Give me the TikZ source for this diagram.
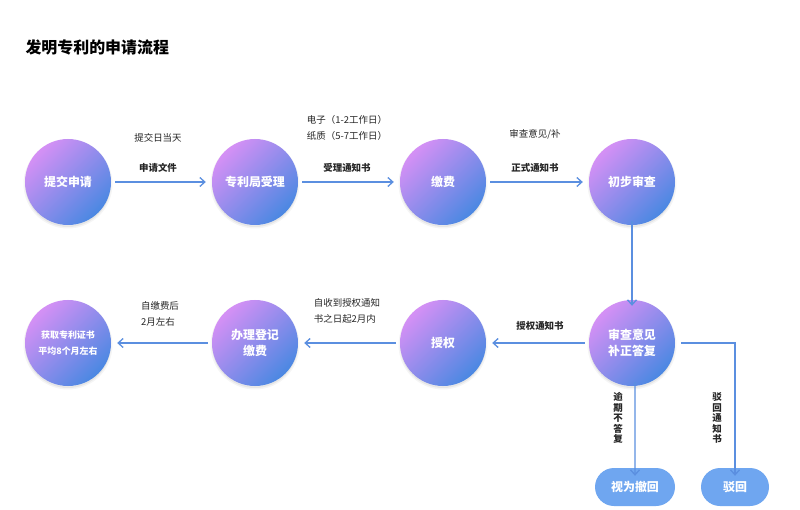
\documentclass[tikz,border=0pt]{standalone}
\usepackage{fontspec}
\setmainfont{Noto Sans CJK SC}
\usetikzlibrary{arrows.meta}
\definecolor{arr}{HTML}{5B8FE0}
\definecolor{pu}{HTML}{D590F5}
\definecolor{bl}{HTML}{4A88E2}
\definecolor{pill}{HTML}{6FA6F0}
\tikzset{
 circ/.style={circle,minimum size=86bp,inner sep=0pt,shading=axis,top color=pu,bottom color=bl,shading angle=45,text=white,font=\bfseries\fontsize{12}{16}\selectfont,align=center,
   preaction={fill=black,opacity=0.06,transform canvas={yshift=-2bp},draw=black,line width=3bp,draw opacity=0.04}},
 pillst/.style={rounded corners=19bp,minimum height=38bp,fill=pill,text=white,font=\bfseries\fontsize{12}{14}\selectfont},
 ar/.style={draw=arr,line width=1.3pt,-{Straight Barb[length=5bp,width=9bp]}},
 lb/.style={font=\fontsize{9.5}{16}\selectfont,text=black!85},
 lbb/.style={font=\bfseries\fontsize{9.5}{12}\selectfont,text=black!85},
 vt/.style={align=center,font=\bfseries\fontsize{9.5}{10.5}\selectfont,text=black!85},
}
\begin{document}
\begin{tikzpicture}[x=1bp,y=-1bp]
\fill[white!97!black!3] (0,0) rectangle (800,510);
\useasboundingbox (0,0) rectangle (800,510);
\node[anchor=west,font=\bfseries\fontsize{16}{18}\selectfont] (title) at (22,47) {发明专利的申请流程};
\node[circ] (a) at (68,182) {提交申请};
\node[circ] (b) at (255,182) {专利局受理};
\node[circ] (c) at (443,182) {缴费};
\node[circ] (d) at (632,182) {初步审查};
\node[circ] (e) at (632,343) {审查意见\\补正答复};
\node[circ] (f) at (443,343) {授权};
\node[circ] (g) at (255,343) {办理登记\\缴费};
\node[circ,font=\bfseries\fontsize{9}{16}\selectfont] (h) at (68,343) {获取专利证书\\平均8个月左右};
\node[pillst,minimum width=80bp] (p1) at (635,487) {视为撤回};
\node[pillst,minimum width=68bp] (p2) at (735,487) {驳回};
\draw[ar] ([xshift=4bp]a.east) -- ([xshift=-6bp]b.west);
\draw[ar] ([xshift=4bp]b.east) -- ([xshift=-6bp]c.west);
\draw[ar] ([xshift=4bp]c.east) -- ([xshift=-6bp]d.west);
\draw[ar] ([yshift=4bp]d.south) -- ([yshift=-6bp]e.north);
\draw[ar] ([xshift=-4bp]e.west) -- ([xshift=6bp]f.east);
\draw[ar] ([xshift=-4bp]f.west) -- ([xshift=6bp]g.east);
\draw[ar] ([xshift=-4bp]g.west) -- ([xshift=6bp]h.east);
\draw[ar] ([xshift=3bp,yshift=4bp]e.south) -- ([xshift=0bp,yshift=-8bp]p1.north);
\draw[ar] ([xshift=6bp]e.east) -- (p2.north |- e.east) -- ([yshift=-8bp]p2.north);
\node[lb] (t1) at (158,138) {提交日当天};
\node[lbb] (t2) at (158,168) {申请文件};
\node[lb,align=left] (t3) at (347,128) {电子（1-2工作日）\\纸质（5-7工作日）};
\node[lbb] (t4) at (347,168) {受理通知书};
\node[lb] (t5) at (535,134) {审查意见/补};
\node[lbb] (t6) at (535,168) {正式通知书};
\node[lbb] (t7) at (540,326) {授权通知书};
\node[lb,align=left] (t8) at (347,311) {自收到授权通知\\书之日起2月内};
\node[lb,align=left] (t9) at (160,314) {自缴费后\\2月左右};
\node[vt] (t10) at (618,418) {逾\\期\\不\\答\\复};
\node[vt] (t11) at (717,418) {驳\\回\\通\\知\\书};
\end{tikzpicture}
\end{document}
